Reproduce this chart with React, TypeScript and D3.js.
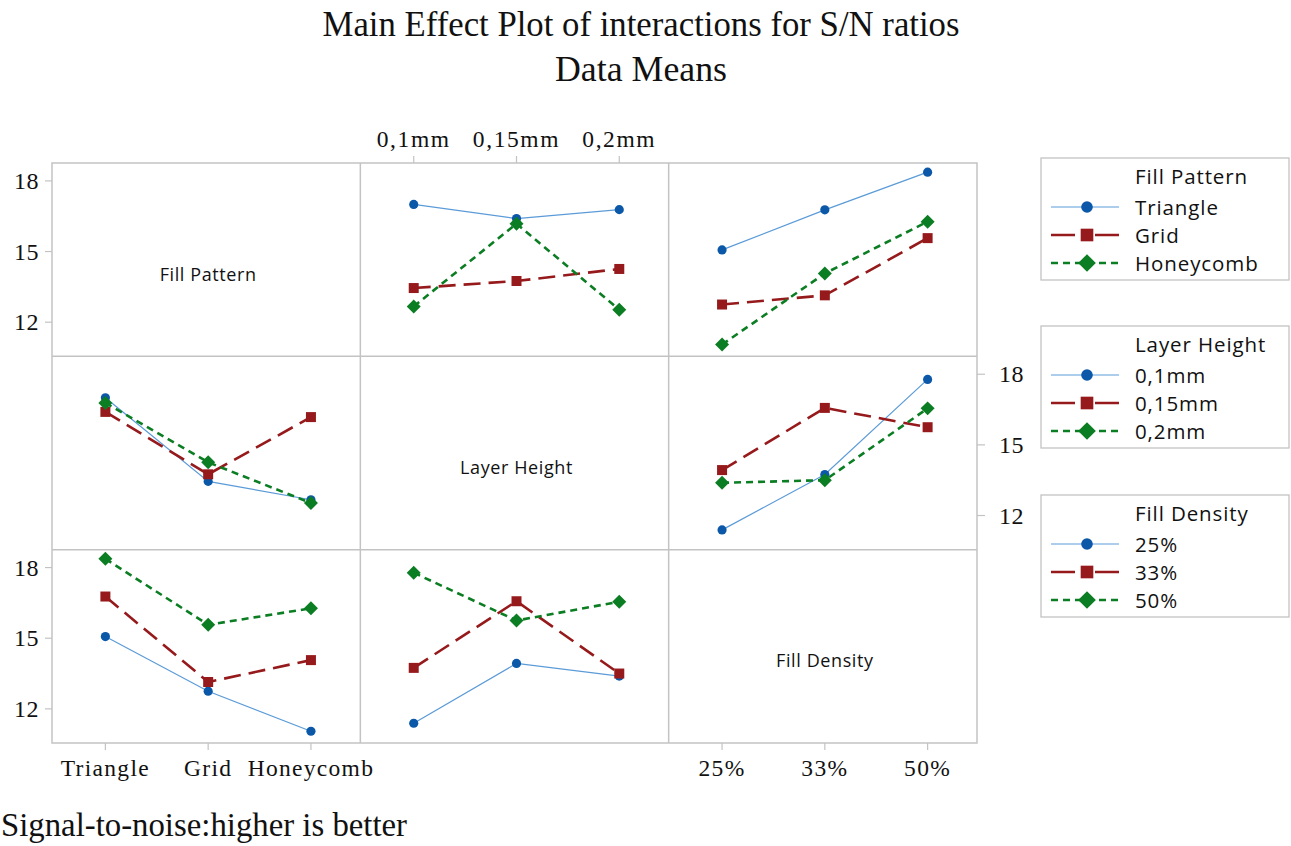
import React from "react";
import * as d3 from "d3";

// ---- Data ----
const factorNames = ["Fill Pattern", "Layer Height", "Fill Density"];
const patterns = ["Triangle", "Grid", "Honeycomb"];
const heights = ["0,1mm", "0,15mm", "0,2mm"];
const densities = ["25%", "33%", "50%"];
const yTicks = [12, 15, 18];

// two-way means: rows = first factor level, cols = second factor level
const patternByHeight = [
  [17.0, 16.4, 16.78],
  [13.45, 13.75, 14.26],
  [12.67, 16.18, 12.53],
];
const patternByDensity = [
  [15.07, 16.77, 18.37],
  [12.75, 13.14, 15.57],
  [11.05, 14.07, 16.27],
];
const heightByDensity = [
  [11.39, 13.74, 17.78],
  [13.93, 16.57, 15.75],
  [13.39, 13.5, 16.55],
];

const levels = [patterns, heights, densities];

function mean(a: number, b: number, i: number, j: number): number {
  const key = `${i}${j}`;
  switch (key) {
    case "01": return patternByHeight[a][b];
    case "10": return patternByHeight[b][a];
    case "02": return patternByDensity[a][b];
    case "20": return patternByDensity[b][a];
    case "12": return heightByDensity[a][b];
    case "21": return heightByDensity[b][a];
  }
  return NaN;
}

// ---- Styles ----
const W = 1291, H = 846;
const gridLeft = 52, gridRight = 977, gridTop = 163, gridBottom = 743;
const serif = "'Liberation Serif', 'Times New Roman', serif";
const sans = "'Open Sans', 'Noto Sans', sans-serif";
const borderColor = "#c3c3c3";

const seriesStyle = [
  { line: "#5b9bd8", marker: "#0b57a8", width: 1.2, dash: "", symbol: "circle" },
  { line: "#961a1c", marker: "#961a1c", width: 2.6, dash: "17,8", symbol: "square" },
  { line: "#0b7d22", marker: "#0b7d22", width: 2.6, dash: "7,5", symbol: "diamond" },
];

const colScale = d3.scaleBand<number>().domain([0, 1, 2]).range([gridLeft, gridRight]).padding(0);
const rowScale = d3.scaleBand<number>().domain([0, 1, 2]).range([gridTop, gridBottom]).padding(0);

function yScaleFor(row: number) {
  const top = rowScale(row)!;
  return d3.scaleLinear().domain([10.55, 18.76]).range([top + rowScale.bandwidth(), top]);
}
function xScaleFor(col: number) {
  const left = colScale(col)!;
  return d3
    .scalePoint<string>()
    .domain(levels[col])
    .range([left + 2, left + colScale.bandwidth() + 2])
    .padding(0.5);
}

function Marker({ x, y, s, k = 1 }: { x: number; y: number; s: typeof seriesStyle[number]; k?: number }) {
  if (s.symbol === "circle") {
    const p = d3.symbol().type(d3.symbolCircle).size(66 * k)()!;
    return <path d={p} transform={`translate(${x},${y})`} fill={s.marker} />;
  }
  if (s.symbol === "square") {
    const p = d3.symbol().type(d3.symbolSquare).size(100 * k)()!;
    return <path d={p} transform={`translate(${x},${y})`} fill={s.marker} />;
  }
  const p = d3.symbol().type(d3.symbolSquare).size(98 * k)()!;
  return <path d={p} transform={`translate(${x},${y}) rotate(45)`} fill={s.marker} />;
}

function Panel({ row, col }: { row: number; col: number }) {
  const x = xScaleFor(col);
  const y = yScaleFor(row);
  if (row === col) {
    const cx = colScale(col)! + colScale.bandwidth() / 2 + 2;
    const cy = rowScale(row)! + rowScale.bandwidth() / 2;
    return (
      <text x={cx} y={cy + 21} textAnchor="middle" fontFamily={sans} fontSize={18} letterSpacing={0.6} fill="#111">
        {factorNames[row]}
      </text>
    );
  }
  const line = d3
    .line<number>()
    .x((_, b) => x(levels[col][b])!)
    .y((v) => y(v));
  return (
    <g>
      {levels[row].map((_, a) => {
        const vals = levels[col].map((__, b) => mean(a, b, row, col));
        const s = seriesStyle[a];
        return (
          <g key={a}>
            <path d={line(vals)!} fill="none" stroke={s.line} strokeWidth={s.width} strokeDasharray={s.dash || undefined} />
            {vals.map((v, b) => (
              <Marker key={b} x={x(levels[col][b])!} y={y(v)} s={s} />
            ))}
          </g>
        );
      })}
    </g>
  );
}

function LeftAxis({ row }: { row: number }) {
  const y = yScaleFor(row);
  return (
    <g>
      {yTicks.map((t) => (
        <g key={t}>
          <line x1={gridLeft - 7} x2={gridLeft} y1={y(t)} y2={y(t)} stroke={borderColor} strokeWidth={1.2} />
          <text x={gridLeft - 13} y={y(t) + 8} textAnchor="end" fontFamily={serif} fontSize={24} letterSpacing={0.5} fill="#111">
            {t}
          </text>
        </g>
      ))}
    </g>
  );
}

function RightAxis({ row }: { row: number }) {
  const y = yScaleFor(row);
  return (
    <g>
      {yTicks.map((t) => (
        <g key={t}>
          <line x1={gridRight} x2={gridRight + 8} y1={y(t)} y2={y(t)} stroke={borderColor} strokeWidth={1.2} />
          <text x={gridRight + 22} y={y(t) + 8} textAnchor="start" fontFamily={serif} fontSize={24} letterSpacing={0.5} fill="#111">
            {t}
          </text>
        </g>
      ))}
    </g>
  );
}

function BottomAxis({ col }: { col: number }) {
  const x = xScaleFor(col);
  return (
    <g>
      {levels[col].map((l) => (
        <g key={l}>
          <line x1={x(l)!} x2={x(l)!} y1={gridBottom} y2={gridBottom + 7} stroke={borderColor} strokeWidth={1.2} />
          <text x={x(l)!} y={gridBottom + 33} textAnchor="middle" fontFamily={serif} fontSize={23.5} letterSpacing={1.3} fill="#111">
            {l}
          </text>
        </g>
      ))}
    </g>
  );
}

function TopAxis({ col }: { col: number }) {
  const x = xScaleFor(col);
  return (
    <g>
      {levels[col].map((l) => (
        <g key={l}>
          <line x1={x(l)!} x2={x(l)!} y1={gridTop - 7} y2={gridTop} stroke={borderColor} strokeWidth={1.2} />
          <text x={x(l)!} y={gridTop - 16} textAnchor="middle" fontFamily={serif} fontSize={23.5} letterSpacing={1.6} fill="#111">
            {l}
          </text>
        </g>
      ))}
    </g>
  );
}

const legendTops = [158, 326, 495];
function Legend({ idx }: { idx: number }) {
  const top = legendTops[idx];
  const left = 1041, right = 1289;
  return (
    <g>
      <rect x={left} y={top} width={right - left} height={122} fill="white" stroke={borderColor} strokeWidth={1.3} />
      <text x={1135} y={top + 26} fontFamily={sans} fontSize={20.5} letterSpacing={0.9} fill="#111">
        {factorNames[idx]}
      </text>
      {levels[idx].map((l, k) => {
        const cy = top + 49 + k * 28;
        const s = seriesStyle[k];
        return (
          <g key={l}>
            <line x1={1051} x2={1119} y1={cy} y2={cy} stroke={s.line} strokeWidth={s.width} strokeDasharray={k === 2 ? "7,5" : k === 1 ? "24,20" : undefined} />
            <Marker x={1087} y={cy} s={s} k={1.6} />
            <text x={1135} y={cy + 7.5} fontFamily={sans} fontSize={20.5} letterSpacing={0.9} fill="#111">
              {l}
            </text>
          </g>
        );
      })}
    </g>
  );
}

export default function App() {
  return (
    <svg width={W} height={H} style={{ position: "absolute", left: 0, top: 0, background: "white" }}>
      <rect x={0} y={0} width={W} height={H} fill="white" />
      <text x={641} y={36} textAnchor="middle" fontFamily={serif} fontSize={36} textLength={637} lengthAdjust="spacingAndGlyphs" fill="#111">
        Main Effect Plot of interactions for S/N ratios
      </text>
      <text x={641} y={81} textAnchor="middle" fontFamily={serif} fontSize={36} textLength={172} lengthAdjust="spacingAndGlyphs" fill="#111">
        Data Means
      </text>

      {/* grid */}
      <rect x={gridLeft} y={gridTop} width={gridRight - gridLeft} height={gridBottom - gridTop} fill="none" stroke={borderColor} strokeWidth={1.5} />
      {[1, 2].map((c) => (
        <line key={"c" + c} x1={colScale(c)!} x2={colScale(c)!} y1={gridTop} y2={gridBottom} stroke={borderColor} strokeWidth={1.5} />
      ))}
      {[1, 2].map((r) => (
        <line key={"r" + r} x1={gridLeft} x2={gridRight} y1={rowScale(r)!} y2={rowScale(r)!} stroke={borderColor} strokeWidth={1.5} />
      ))}

      <LeftAxis row={0} />
      <LeftAxis row={2} />
      <RightAxis row={1} />
      <TopAxis col={1} />
      <BottomAxis col={0} />
      <BottomAxis col={2} />

      {[0, 1, 2].map((r) => [0, 1, 2].map((c) => <Panel key={`${r}-${c}`} row={r} col={c} />))}

      {[0, 1, 2].map((i) => (
        <Legend key={i} idx={i} />
      ))}

      <text x={1} y={836} fontFamily={serif} fontSize={33} textLength={406} lengthAdjust="spacingAndGlyphs" fill="#111">
        Signal-to-noise:higher is better
      </text>
    </svg>
  );
}
